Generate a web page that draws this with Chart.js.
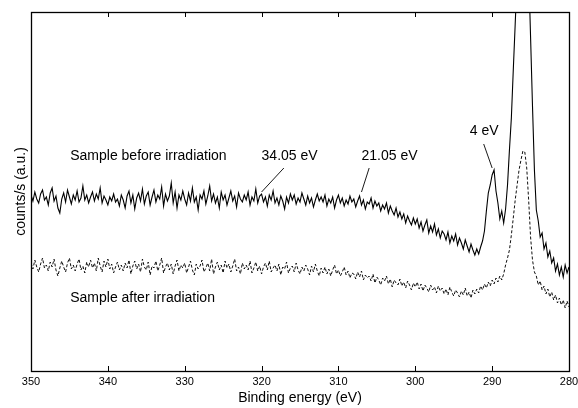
<!DOCTYPE html>
<html>
<head>
<meta charset="utf-8">
<script src="https://cdn.jsdelivr.net/npm/chart.js@4.4.1/dist/chart.umd.min.js"></script>
<style>
  html, body { margin: 0; padding: 0; background: #ffffff; }
  #wrap { width: 578px; height: 408px; position: relative; }
</style>
</head>
<body>
<div id="wrap"><canvas id="c"></canvas></div>
<script>
// ---- data ----
const energyStart = 350;   // eV, left end of the axis
const energyStep = 0.25;   // eV between samples
const xTickValues = [350, 340, 330, 320, 310, 300, 290, 280];

// Sample before irradiation (solid), arbitrary units
const beforeCounts = [
  176,170,179,172,168,177,181,171,
  174,166,178,183,170,175,163,158,
  172,178,169,181,174,167,176,171,
  180,169,173,185,171,176,168,174,
  179,170,177,172,183,168,175,171,
  166,174,170,177,169,172,165,176,
  171,163,175,180,168,176,162,173,
  178,170,182,167,175,179,166,174,
  181,169,176,172,184,165,177,170,
  175,188,168,179,163,176,171,180,
  172,166,178,170,183,169,174,161,
  176,172,180,167,175,185,170,177,
  168,174,163,179,171,176,166,173,
  180,170,175,164,178,172,169,176,
  171,179,166,174,170,182,168,175,
  177,169,174,165,176,171,180,168,
  173,166,175,170,162,174,168,177,
  171,176,167,173,169,178,172,166,
  175,168,173,164,171,177,170,174,
  169,176,165,172,168,174,163,171,
  176,168,173,165,171,167,175,169,
  172,164,170,175,166,171,162,169,
  167,173,163,170,165,168,160,166,
  162,168,158,165,160,156,163,154,
  159,152,157,148,155,150,146,153,
  147,152,143,149,140,146,151,138,
  145,139,147,136,142,133,140,137,
  131,139,128,135,130,137,126,133,
  128,122,131,125,119,127,121,116,
  122,117,124,130,140,160,178,186,
  196,201,180,168,152,160,148,162,
  186,221,253,301,347,394,440,500,
  560,500,450,402,334,265,201,161,
  150,134,138,122,128,114,120,108,
  113,100,107,96,104,94,106,98,
  104
];

// Sample after irradiation (dashed), arbitrary units
const afterCounts = [
  108,102,111,104,99,107,113,103,
  106,100,109,104,112,101,95,103,
  110,104,99,108,113,102,106,100,
  107,112,101,105,98,109,104,111,
  103,108,100,113,105,99,110,104,
  112,102,107,98,104,109,101,106,
  100,108,103,111,97,105,110,102,
  107,99,112,104,101,109,96,105,
  103,110,100,106,113,98,104,108,
  101,107,97,105,111,100,106,103,
  108,98,104,110,101,96,107,102,
  105,111,99,103,108,100,112,97,
  104,109,101,106,98,110,103,107,
  99,105,112,100,104,97,108,102,
  106,101,110,98,103,109,100,105,
  97,104,108,101,110,99,103,106,
  100,107,96,104,102,109,98,103,
  105,99,108,101,97,104,100,106,
  102,96,105,99,107,100,95,103,
  98,104,97,102,95,101,106,97,
  101,95,99,104,96,100,93,98,
  97,92,99,94,100,91,96,93,
  95,90,97,88,94,91,86,93,
  90,95,87,92,84,91,88,86,
  92,85,89,83,90,86,81,88,
  84,89,82,87,80,86,83,79,
  86,81,84,78,85,80,83,77,
  82,76,84,79,75,81,78,74,
  80,76,83,75,79,73,81,77,
  82,78,85,81,87,83,89,85,
  91,87,93,89,95,91,97,106,
  113,121,136,153,171,186,201,211,
  220,219,203,171,134,111,99,95,
  86,90,81,85,77,82,74,79,
  71,76,68,73,66,71,63,70,
  64
];

// Text annotations: label, energy (eV), level (a.u.)
const annotationLabels = ["Sample before irradiation", "34.05 eV", "21.05 eV", "4 eV", "Sample after irradiation"];
const annotationEnergies = [344.9, 320.0, 307.0, 292.9, 344.9];
const annotationLevels = [215, 215, 215, 240, 73];
// Leader lines: from (energy, level) to (energy, level)
const leaderFromE = [317.1, 306.0, 291.1];
const leaderFromV = [203, 203, 227];
const leaderToE = [320.0, 307.0, 290.0];
const leaderToV = [179, 179, 203];

// ---- build ----
const energies = beforeCounts.map((_, i) => energyStart - i * energyStep);
const beforePts = beforeCounts.map((v, i) => ({ x: energies[i], y: v }));
const afterPts = afterCounts.map((v, i) => ({ x: energyStart - i * energyStep, y: v }));

const FONT = '"Liberation Sans", Arial, Helvetica, sans-serif';
Chart.defaults.font.family = FONT;
Chart.defaults.color = '#000';

const framePlugin = {
  id: 'frameAndNotes',
  afterDatasetsDraw(chart) {
    const ctx = chart.ctx;
    const { left, right, top, bottom } = chart.chartArea;
    const xs = chart.scales.x, ys = chart.scales.y;
    ctx.save();
    ctx.strokeStyle = '#000';
    ctx.lineWidth = 1.3;
    ctx.strokeRect(Math.round(left) + 0.5, Math.round(top) + 0.5, Math.round(right - left), Math.round(bottom - top));
    // inward ticks
    ctx.lineWidth = 1;
    xTickValues.forEach(v => {
      const px = Math.round(xs.getPixelForValue(v)) + 0.5;
      ctx.beginPath();
      ctx.moveTo(px, bottom); ctx.lineTo(px, bottom - 5);
      ctx.moveTo(px, top); ctx.lineTo(px, top + 5);
      ctx.stroke();
    });
    // leader lines
    ctx.lineWidth = 0.9;
    leaderFromE.forEach((e, i) => {
      ctx.beginPath();
      ctx.moveTo(xs.getPixelForValue(e), ys.getPixelForValue(leaderFromV[i]));
      ctx.lineTo(xs.getPixelForValue(leaderToE[i]), ys.getPixelForValue(leaderToV[i]));
      ctx.stroke();
    });
    // labels
    ctx.fillStyle = '#000';
    ctx.font = '14px ' + FONT;
    ctx.textAlign = 'left';
    ctx.textBaseline = 'middle';
    annotationLabels.forEach((t, i) => {
      ctx.fillText(t, xs.getPixelForValue(annotationEnergies[i]), ys.getPixelForValue(annotationLevels[i]));
    });
    ctx.restore();
  }
};

const bgPlugin = {
  id: 'bg',
  beforeDraw(chart) {
    const ctx = chart.ctx;
    ctx.save();
    ctx.fillStyle = '#fff';
    ctx.fillRect(0, 0, chart.width, chart.height);
    ctx.restore();
  }
};

new Chart(document.getElementById('c'), {
  type: 'line',
  data: {
    datasets: [
      {
        label: 'Sample before irradiation',
        data: beforePts,
        borderColor: '#000',
        borderWidth: 1.1,
        pointRadius: 0,
        tension: 0,
        fill: false
      },
      {
        label: 'Sample after irradiation',
        data: afterPts,
        borderColor: '#111',
        borderWidth: 1,
        borderDash: [3, 2],
        pointRadius: 0,
        tension: 0,
        fill: false
      }
    ]
  },
  options: {
    responsive: true,
    maintainAspectRatio: false,
    animation: false,
    devicePixelRatio: 1,
    layout: { padding: { top: 12, right: 9, left: 0, bottom: 0 } },
    plugins: { legend: { display: false }, tooltip: { enabled: false } },
    scales: {
      x: {
        type: 'linear',
        reverse: true,
        min: 280,
        max: 350,
        afterBuildTicks: s => { s.ticks = xTickValues.map(v => ({ value: v })); },
        afterFit: s => { s.height = 37; s.paddingLeft = 0; s.paddingRight = 0; },
        grid: { display: false, drawTicks: false },
        border: { display: false },
        ticks: { font: { size: 11 }, padding: 4, maxRotation: 0, autoSkip: false, color: '#000' },
        title: { display: true, text: 'Binding energy (eV)', font: { size: 14 }, padding: { top: 0, bottom: 1 }, color: '#000' }
      },
      y: {
        type: 'linear',
        min: 0,
        max: 359,
        afterFit: s => { s.width = 31; s.paddingTop = 0; s.paddingBottom = 0; },
        grid: { display: false, drawTicks: false },
        border: { display: false },
        ticks: { display: false },
        title: { display: true, text: 'counts/s (a.u.)', font: { size: 14 }, padding: { top: 13, bottom: 0 }, color: '#000' }
      }
    }
  },
  plugins: [bgPlugin, framePlugin]
});
</script>
</body>
</html>
